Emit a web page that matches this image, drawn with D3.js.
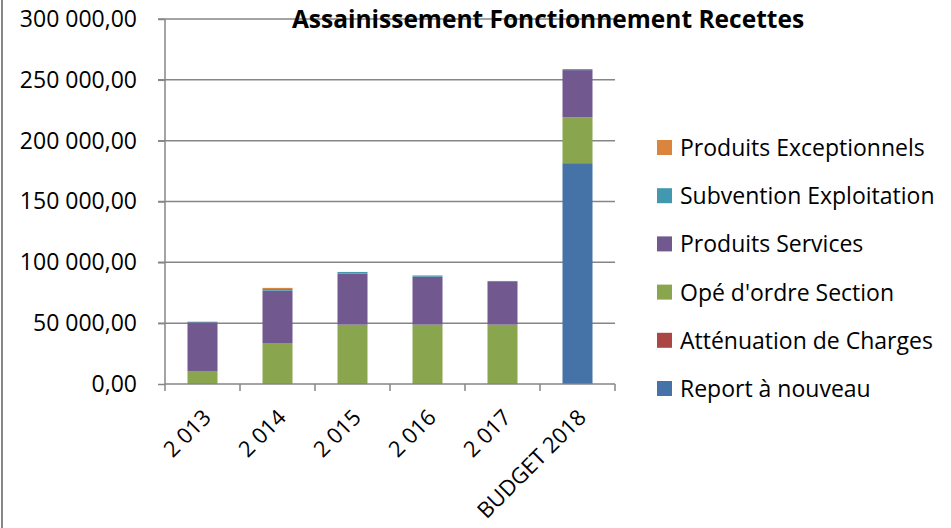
<!DOCTYPE html>
<html>
<head>
<meta charset="utf-8">
<script src="https://cdn.jsdelivr.net/npm/d3@7"></script>
<style>
  body { margin: 0; background: #fff; }
  text { font-family: "Open Sans", sans-serif; fill: #000; }
</style>
</head>
<body>
<svg width="951" height="528"></svg>
<script>
// categories and series
var annees = ["2 013", "2 014", "2 015", "2 016", "2 017", "BUDGET 2018"];
var series = ["Report à nouveau", "Atténuation de Charges", "Opé d'ordre Section",
              "Produits Services", "Subvention Exploitation", "Produits Exceptionnels"];
var reportNouveau   = [0, 0, 0, 0, 0, 181500];
var attenuation     = [0, 0, 0, 0, 0, 0];
var opeOrdre        = [10700, 33700, 48800, 48800, 48800, 37800];
var produitsServ    = [40000, 43000, 41900, 39400, 35100, 38700];
var subvention      = [500, 1400, 1400, 1000, 800, 800];
var produitsExcep   = [0, 900, 0, 0, 0, 0];
var yTicks = [0, 50000, 100000, 150000, 200000, 250000, 300000];
var couleurs = ["#4572A7", "#AA4643", "#89A54E", "#71588F", "#4198AF", "#DB843D"];

var valeurs = [reportNouveau, attenuation, opeOrdre, produitsServ, subvention, produitsExcep];

var svg = d3.select("svg");
var margin = {top: 19, left: 165, right: 336, bottom: 144};
var width = 951 - margin.left - margin.right,
    height = 528 - margin.top - margin.bottom;

// left frame edge
svg.append("line").attr("x1", 2).attr("x2", 2).attr("y1", 0).attr("y2", 528)
   .attr("stroke", "#868686").attr("stroke-width", 2);

var g = svg.append("g").attr("transform", "translate(" + margin.left + "," + margin.top + ")");

var x = d3.scaleBand().domain(annees).range([0, width]).paddingInner(0.6).paddingOuter(0.3);
var xTick = d3.scaleBand().domain(annees).range([0, width]);
var y = d3.scaleLinear().domain([0, 300000]).range([height, 0]);

var table = annees.map(function(a, i) {
  var row = {annee: a};
  series.forEach(function(s, k) { row[s] = valeurs[k][i]; });
  return row;
});
var stack = d3.stack().keys(series)(table);

// gridlines
g.selectAll(".grid").data(yTicks.slice(1)).enter().append("line")
  .attr("x1", -7).attr("x2", width)
  .attr("y1", function(d) { return y(d); }).attr("y2", function(d) { return y(d); })
  .attr("stroke", "#868686").attr("stroke-width", 1.5);

// y axis
var yAxis = g.append("g").call(d3.axisLeft(y).tickValues(yTicks).tickSize(7).tickPadding(21)
  .tickFormat(function(d) { return d3.format(",.2f")(d).replace(/,/g, " ").replace(".", ","); }));
yAxis.select(".domain").remove();
yAxis.selectAll("line").attr("stroke", "#868686").attr("stroke-width", 1.5);
yAxis.selectAll("text").attr("font-size", 23).attr("font-family", "Open Sans").attr("fill", "#000");
g.append("line").attr("x1", 0).attr("x2", 0).attr("y1", 0).attr("y2", height)
  .attr("stroke", "#868686").attr("stroke-width", 1.5);

// bars
g.selectAll(".serie").data(stack).enter().append("g")
  .attr("fill", function(d, i) { return couleurs[i]; })
  .selectAll("rect").data(function(d) { return d; }).enter().append("rect")
  .attr("x", function(d) { return x(d.data.annee); })
  .attr("width", x.bandwidth())
  .attr("y", function(d) { return y(d[1]); })
  .attr("height", function(d) { return y(d[0]) - y(d[1]); });

// x axis
var xAxis = g.append("g").attr("transform", "translate(0," + height + ")")
  .call(d3.axisBottom(xTick).tickSize(0).tickFormat(""));
xAxis.select(".domain").remove();
g.append("line").attr("x1", 0).attr("x2", width).attr("y1", height).attr("y2", height)
  .attr("stroke", "#868686").attr("stroke-width", 1.5);
g.selectAll(".xtick").data(d3.range(annees.length + 1)).enter().append("line")
  .attr("x1", function(i) { return i * xTick.step(); })
  .attr("x2", function(i) { return i * xTick.step(); })
  .attr("y1", height).attr("y2", height + 7)
  .attr("stroke", "#868686").attr("stroke-width", 1.5);
g.selectAll(".xlabel").data(annees).enter().append("text")
  .attr("transform", function(d) {
    return "translate(" + (xTick(d) + xTick.bandwidth() / 2 - 1) + "," + (height + 24) + ") rotate(-45)";
  })
  .attr("text-anchor", "end").attr("dy", "0.7em").attr("font-size", 22)
  .text(function(d) { return d; });

// title
svg.append("text").attr("x", 548).attr("y", 28).attr("text-anchor", "middle")
  .attr("font-size", 24.5).attr("font-weight", "bold").text("Assainissement Fonctionnement Recettes");

// legend (top = last series)
var leg = svg.append("g").attr("transform", "translate(657,140)");
var legItems = leg.selectAll("g").data(series.slice().reverse()).enter().append("g")
  .attr("transform", function(d, i) { return "translate(0," + (i * 48.2) + ")"; });
legItems.append("rect").attr("width", 15).attr("height", 15)
  .attr("fill", function(d, i) { return couleurs[series.length - 1 - i]; });
legItems.append("text").attr("x", 23).attr("y", 8).attr("dy", "0.35em")
  .attr("font-size", 23).text(function(d) { return d; });
</script>
</body>
</html>
